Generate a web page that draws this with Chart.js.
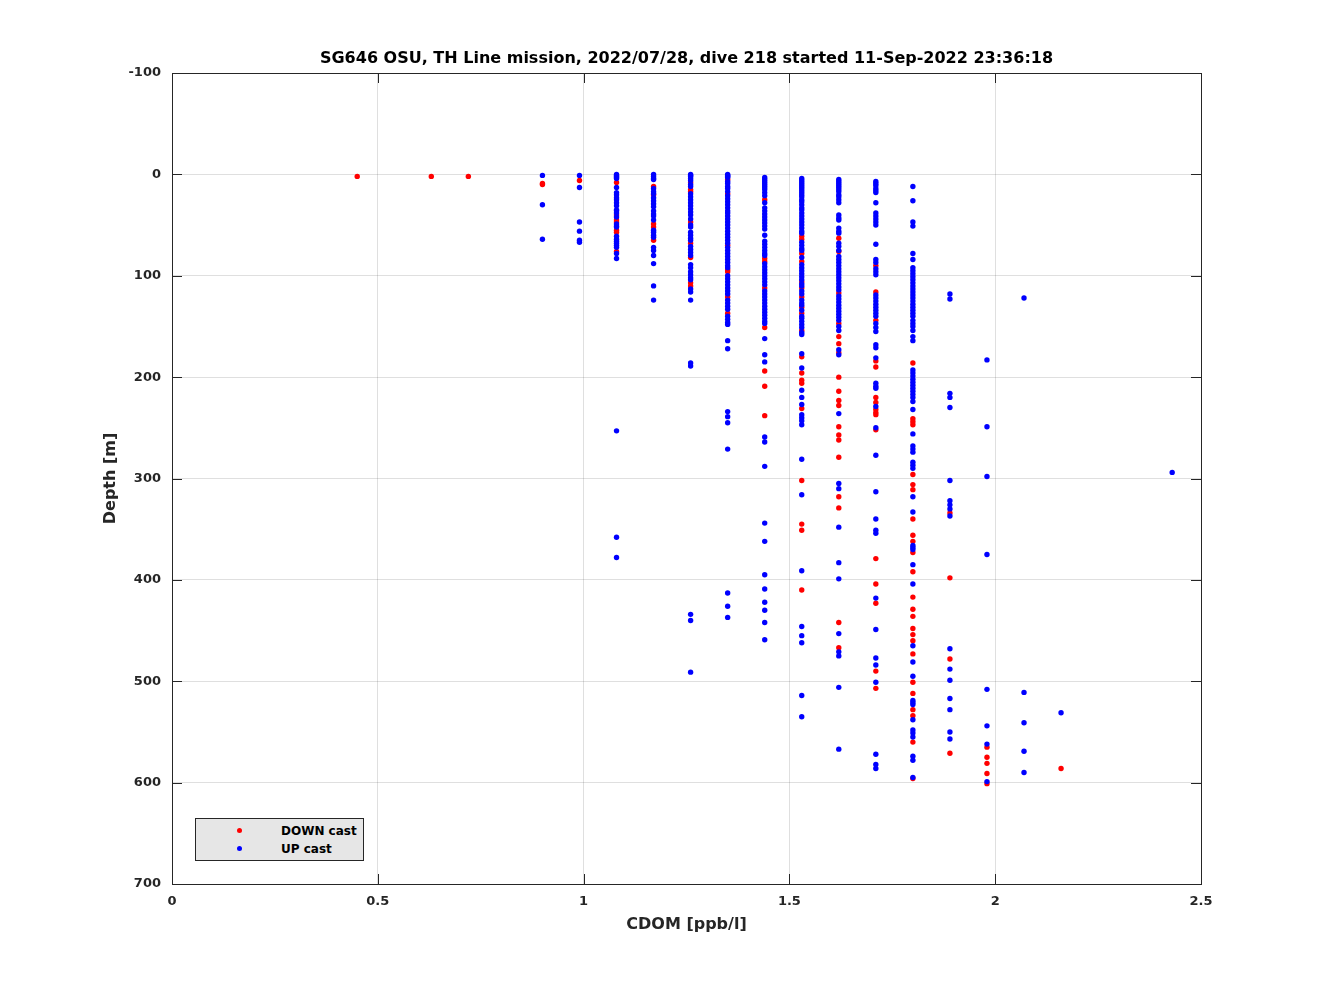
<!DOCTYPE html>
<html>
<head>
<meta charset="utf-8">
<script src="https://cdn.jsdelivr.net/npm/chart.js@4.4.1/dist/chart.umd.min.js"></script>
<style>
  html, body { margin: 0; padding: 0; background: #ffffff; }
  #wrap { position: relative; width: 1328px; height: 996px; }
  #legend {
    position: absolute; left: 195px; top: 818px; width: 167px; height: 41px;
    background: #e6e6e6; border: 1px solid #262626;
    font-family: "DejaVu Sans", sans-serif; font-weight: bold; font-size: 12px; color: #000;
  }
  .lg-row { position: absolute; left: 0; height: 18px; line-height: 18px; }
  .lg-dot { position: absolute; left: 41px; width: 5px; height: 5px; border-radius: 50%; top: 6px; }
  .lg-txt { position: absolute; left: 85px; white-space: nowrap; }
</style>
</head>
<body>
<div id="wrap">
  <canvas id="c" width="1328" height="996"></canvas>
  <div id="legend">
    <div class="lg-row" style="top:3px"><span class="lg-dot" style="background:#ff0000"></span><span class="lg-txt">DOWN cast</span></div>
    <div class="lg-row" style="top:21px"><span class="lg-dot" style="background:#0000ff"></span><span class="lg-txt">UP cast</span></div>
  </div>
</div>
<script>
const chartTitle = "SG646 OSU, TH Line mission, 2022/07/28, dive 218 started 11-Sep-2022 23:36:18";
const xLabel = "CDOM [ppb/l]";
const yLabel = "Depth [m]";
const xTicks = [0, 0.5, 1, 1.5, 2, 2.5];
const xTickLabels = ["0", "0.5", "1", "1.5", "2", "2.5"];
const yTicks = [-100, 0, 100, 200, 300, 400, 500, 600, 700];
const yTickLabels = ["-100", "0", "100", "200", "300", "400", "500", "600", "700"];

// CDOM levels (x) of each column of samples
const cdomLevels = [0.45, 0.63, 0.72, 0.90, 0.99, 1.08, 1.17, 1.26, 1.35, 1.44, 1.53, 1.62, 1.71, 1.80, 1.89, 1.98, 2.07, 2.16, 2.43];

// DOWN cast depths [m] for each CDOM level
const downDepths = [
  [2],
  [2],
  [2],
  [9, 10],
  [6],
  [8, 40, 45, 47, 55, 57, 76],
  [12, 20, 49, 52, 65],
  [8, 15, 17, 47, 68, 82, 107, 110],
  [5, 19, 70, 94, 96, 121, 137],
  [25, 83, 86, 112, 151, 194, 209, 238],
  [61, 64, 78, 86, 106, 112, 121, 131, 137, 154, 180, 196, 203, 206, 231, 302, 345, 351, 410],
  [63, 76, 117, 147, 160, 167, 176, 200, 214, 223, 228, 249, 257, 262, 279, 318, 329, 442, 467],
  [90, 116, 144, 184, 190, 220, 225, 232, 235, 237, 252, 379, 404, 423, 490, 507],
  [186, 241, 244, 247, 296, 306, 311, 340, 356, 362, 373, 392, 417, 429, 436, 448, 454, 460, 473, 501, 512, 528, 534, 560, 596],
  [334, 398, 478, 571],
  [565, 575, 581, 591, 601],
  [],
  [586],
  []
];

// UP cast depths [m] for each CDOM level
const upDepths = [
  [],
  [],
  [],
  [1, 30, 64],
  [1, 13, 47, 56, 65, 67],
  [0, 1, 2, 3, 4, 13, 18, 20, 23, 25, 28, 31, 35, 36, 38, 42, 49, 51, 52, 61, 64, 66, 68, 70, 72, 78, 83, 253, 358, 378],
  [0, 2, 4, 5, 14, 17, 19, 23, 26, 29, 32, 36, 39, 41, 45, 55, 57, 60, 62, 72, 75, 80, 88, 110, 124],
  [0, 1, 2, 4, 6, 10, 12, 19, 22, 25, 28, 31, 34, 37, 40, 44, 50, 52, 57, 60, 63, 65, 71, 74, 77, 80, 89, 92, 96, 99, 102, 104, 113, 116, 124, 186, 189, 434, 440, 491],
  [0, 1, 2, 3, 7, 9, 12, 14, 17, 21, 24, 27, 30, 33, 36, 38, 41, 44, 47, 50, 53, 56, 59, 62, 65, 68, 72, 75, 78, 81, 84, 87, 90, 92, 100, 103, 106, 109, 112, 115, 118, 124, 127, 130, 133, 140, 143, 146, 148, 164, 172, 234, 239, 245, 271, 413, 426, 437],
  [3, 5, 7, 9, 11, 13, 15, 18, 21, 28, 33, 36, 39, 42, 45, 48, 51, 54, 60, 66, 69, 72, 75, 78, 80, 88, 91, 94, 97, 100, 103, 106, 109, 115, 118, 121, 124, 127, 130, 133, 136, 139, 142, 145, 147, 162, 178, 185, 259, 264, 288, 344, 362, 395, 409, 422, 430, 442, 459],
  [4, 6, 8, 10, 12, 14, 16, 18, 20, 22, 25, 27, 30, 33, 35, 38, 41, 44, 47, 50, 53, 56, 58, 67, 70, 73, 75, 82, 89, 92, 95, 98, 101, 104, 108, 110, 115, 118, 124, 127, 129, 134, 140, 142, 145, 148, 151, 156, 158, 177, 191, 213, 220, 227, 237, 240, 243, 247, 281, 316, 391, 446, 455, 462, 514, 535],
  [5, 7, 9, 11, 13, 15, 17, 20, 22, 25, 28, 40, 43, 45, 53, 56, 58, 68, 71, 75, 81, 84, 87, 90, 93, 96, 99, 102, 105, 108, 111, 114, 120, 123, 126, 129, 132, 135, 138, 141, 144, 150, 154, 173, 178, 236, 305, 310, 348, 383, 399, 453, 471, 475, 506, 567],
  [7, 9, 11, 14, 16, 18, 28, 38, 41, 44, 47, 50, 69, 84, 87, 93, 96, 99, 119, 122, 125, 128, 131, 134, 137, 140, 147, 151, 155, 168, 171, 181, 206, 209, 211, 229, 250, 277, 313, 340, 351, 354, 418, 449, 477, 484, 501, 572, 582, 586],
  [12, 26, 47, 51, 78, 84, 92, 95, 98, 101, 104, 107, 110, 113, 116, 119, 122, 125, 128, 131, 134, 137, 140, 144, 147, 150, 154, 160, 164, 193, 196, 199, 202, 205, 208, 211, 214, 217, 220, 224, 232, 256, 268, 271, 274, 284, 287, 290, 318, 333, 366, 368, 370, 385, 404, 465, 481, 495, 519, 521, 523, 538, 548, 551, 555, 574, 578, 595],
  [118, 123, 216, 220, 230, 302, 322, 326, 330, 337, 468, 488, 499, 517, 528, 550, 557],
  [183, 249, 298, 375, 508, 544, 562, 599],
  [122, 511, 541, 569, 590],
  [531],
  [294]
];

function toPoints(depthLists) {
  const pts = [];
  depthLists.forEach((list, i) => list.forEach(d => pts.push({ x: cdomLevels[i], y: d })));
  return pts;
}

const AXIS_COLOR = '#262626';
const GRID_COLOR = 'rgba(38,38,38,0.15)';
const FONT = '"DejaVu Sans", sans-serif';

const framePlugin = {
  id: 'frame',
  afterDraw(chart) {
    const { ctx, chartArea: a, scales } = chart;
    ctx.save();
    ctx.strokeStyle = AXIS_COLOR;
    ctx.lineWidth = 1;
    ctx.beginPath();
    const tl = 10;
    xTicks.forEach(v => {
      const px = Math.round(scales.x.getPixelForValue(v)) + 0.5;
      ctx.moveTo(px, a.bottom); ctx.lineTo(px, a.bottom - tl);
      ctx.moveTo(px, a.top); ctx.lineTo(px, a.top + tl);
    });
    yTicks.forEach(v => {
      const py = Math.round(scales.y.getPixelForValue(v)) + 0.5;
      ctx.moveTo(a.left, py); ctx.lineTo(a.left + tl, py);
      ctx.moveTo(a.right, py); ctx.lineTo(a.right - tl, py);
    });
    ctx.stroke();
    ctx.strokeRect(Math.round(a.left) + 0.5, Math.round(a.top) + 0.5, Math.round(a.right - a.left), Math.round(a.bottom - a.top));
    ctx.fillStyle = '#000000';
    ctx.font = 'bold 16px ' + FONT;
    ctx.textAlign = 'center';
    ctx.textBaseline = 'middle';
    ctx.fillText(chartTitle, (a.left + a.right) / 2, 59);
    ctx.restore();
  }
};

new Chart(document.getElementById('c'), {
  type: 'scatter',
  data: {
    datasets: [
      { label: 'UP cast', data: toPoints(upDepths), backgroundColor: '#0000ff', pointRadius: 2.7, pointBorderWidth: 0, pointHoverRadius: 2.7, order: 0 },
      { label: 'DOWN cast', data: toPoints(downDepths), backgroundColor: '#ff0000', pointRadius: 2.7, pointBorderWidth: 0, pointHoverRadius: 2.7, order: 1 }
    ]
  },
  options: {
    responsive: false,
    animation: false,
    events: [],
    layout: { padding: { left: 0, top: 73, right: 127, bottom: 0 } },
    plugins: { legend: { display: false }, tooltip: { enabled: false }, title: { display: false } },
    scales: {
      x: {
        type: 'linear', min: 0, max: 2.5,
        afterBuildTicks: s => { s.ticks = xTicks.map(v => ({ value: v })); },
        afterFit: s => { s.height = 112; },
        grid: { color: GRID_COLOR, drawTicks: false, lineWidth: 1 },
        border: { display: false },
        ticks: {
          color: AXIS_COLOR, padding: 10, font: { family: FONT, weight: 'bold', size: 13 }, maxRotation: 0, autoSkip: false,
          callback: (v) => { const i = xTicks.indexOf(v); return i >= 0 ? xTickLabels[i] : ''; }
        },
        title: { display: true, text: xLabel, color: AXIS_COLOR, font: { family: FONT, weight: 'bold', size: 16 }, padding: { top: 0, bottom: 62 } }
      },
      y: {
        type: 'linear', min: -100, max: 700, reverse: true,
        afterBuildTicks: s => { s.ticks = yTicks.map(v => ({ value: v })); },
        afterFit: s => { s.width = 172; },
        grid: { color: GRID_COLOR, drawTicks: false, lineWidth: 1 },
        border: { display: false },
        ticks: {
          color: AXIS_COLOR, padding: 11, font: { family: FONT, weight: 'bold', size: 13 }, autoSkip: false,
          callback: (v) => { const i = yTicks.indexOf(v); return i >= 0 ? yTickLabels[i] : ''; }
        },
        title: { display: true, text: yLabel, color: AXIS_COLOR, font: { family: FONT, weight: 'bold', size: 16 }, padding: { top: 101, bottom: 0 } }
      }
    }
  },
  plugins: [framePlugin]
});
</script>
</body>
</html>
